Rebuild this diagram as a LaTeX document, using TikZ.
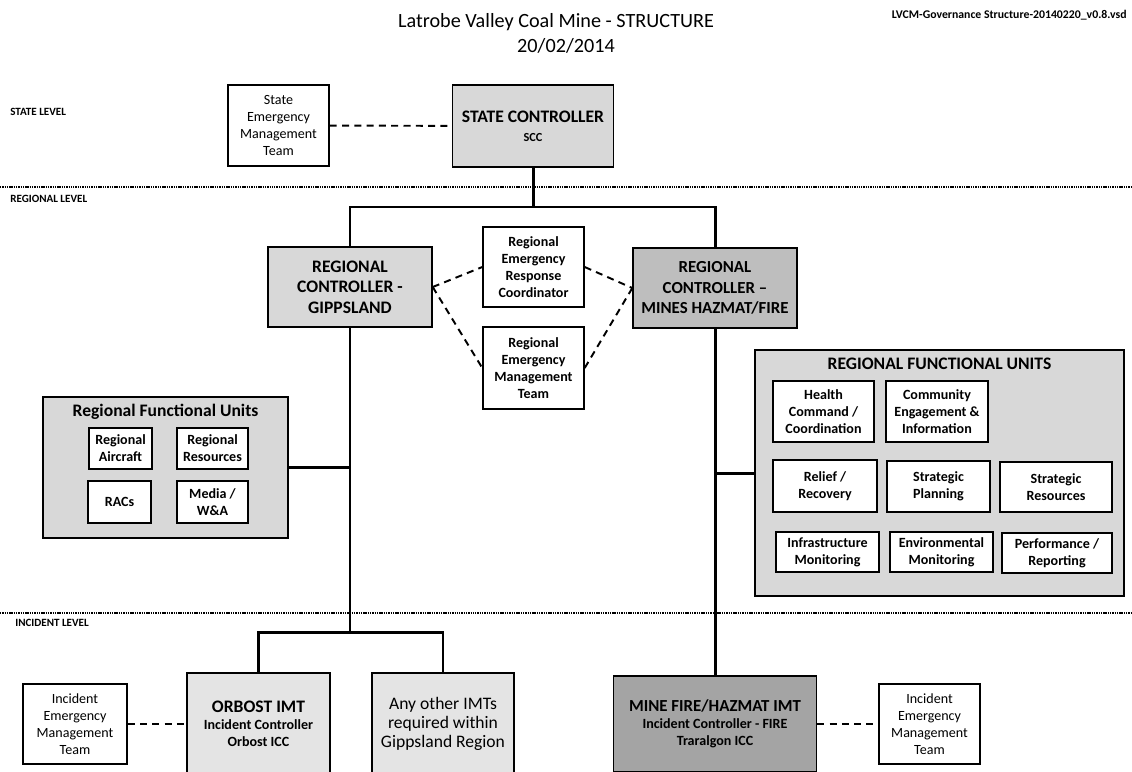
\documentclass[tikz,border=0pt]{standalone}
\usepackage{fontspec}
\setmainfont{Carlito}
\definecolor{paleshade}{HTML}{E4E4E4}
\definecolor{lightshade}{HTML}{D8D8D8}
\definecolor{midshade}{HTML}{BEBEBE}
\definecolor{darkshade}{HTML}{A4A4A4}
\tikzset{
  box/.style={draw, line width=0.8pt, fill=white, align=center, inner sep=1pt,
    font=\fontsize{8}{9.6}\selectfont},
  boldbox/.style={box, font=\fontsize{8}{9.6}\selectfont\bfseries},
  boxsize/.style 2 args={minimum width=#1*0.02cm, minimum height=#2*0.02cm},
  link/.style={line width=1.7pt},
  assoc/.style={line width=1.1pt, dash pattern=on 4pt off 3pt},
  levelline/.style={line width=0.6pt, dash pattern=on 0.8pt off 0.5pt},
  levelname/.style={anchor=west, inner sep=0pt, font=\fontsize{6.3}{7}\selectfont\bfseries},
}
\begin{document}
\begin{tikzpicture}[x=0.02cm, y=-0.02cm]
  \path[use as bounding box, clip] (0,0) rectangle (1132,771);
  \fill[white] (0,0) rectangle (1132,771);

  \node (title) at (556,22) [font=\fontsize{11.5}{13.6}\selectfont]
    {Latrobe Valley Coal Mine - STRUCTURE};
  \node (date) at (566,46) [font=\fontsize{11.5}{13.6}\selectfont] {20/02/2014};
  \node (file) at (1127,15) [anchor=east, inner sep=0pt, font=\fontsize{6.7}{7}\selectfont\bfseries]
    {LVCM-Governance Structure-20140220\_v0.8.vsd};

  \draw[levelline] (0,187) -- (1132,187);
  \draw[levelline] (0,613) -- (1132,613);
  \node (statelevel) at (10,112) [levelname] {STATE LEVEL};
  \node (regionlevel) at (10,199) [levelname] {REGIONAL LEVEL};
  \node (incidentlevel) at (15,623) [levelname] {INCIDENT LEVEL};

  % state level
  \node (semt) at (278.5,125.5) [box, boxsize={101}{81}] {State\\Emergency\\Management\\Team};
  \node (sc) at (533,126) [box, fill=lightshade, boxsize={161}{82}]
    {\fontsize{10}{12}\selectfont\bfseries STATE CONTROLLER\\[1pt]\fontsize{7}{9}\selectfont\bfseries SCC};

  % regional level
  \node (rcg) at (350,287) [box, fill=lightshade, boxsize={164}{80},
    font=\fontsize{10}{11.6}\selectfont\bfseries] {REGIONAL\\CONTROLLER -\\GIPPSLAND};
  \node (rcm) at (715,288) [box, fill=midshade, boxsize={164}{80},
    font=\fontsize{9.6}{11.6}\selectfont\bfseries] {REGIONAL\\CONTROLLER --\\MINES HAZMAT/FIRE};
  \node (rerc) at (533.5,267) [boldbox, boxsize={101}{80}] {Regional\\Emergency\\Response\\Coordinator};
  \node (remt) at (533.5,368) [boldbox, boxsize={101}{82}] {Regional\\Emergency\\Management\\Team};

  \node (lrfu) at (165.5,467.5) [box, fill=lightshade, boxsize={245}{141}] {};
  \node (lrfutitle) at (165.5,412) [font=\fontsize{10}{12}\selectfont\bfseries] {Regional Functional Units};
  \node (aircraft) at (120.5,448.5) [boldbox, boxsize={63}{41}] {Regional\\Aircraft};
  \node (resources) at (212.5,448.5) [boldbox, boxsize={71}{41}] {Regional\\Resources};
  \node (racs) at (119.5,502) [boldbox, boxsize={63}{42}] {RACs};
  \node (media) at (212.5,502) [boldbox, boxsize={71}{42}] {Media /\\W\&A};

  \node (rrfu) at (939.5,473) [box, fill=lightshade, boxsize={369}{246}] {};
  \node (rrfutitle) at (939.5,364) [font=\fontsize{10}{12}\selectfont\bfseries] {REGIONAL FUNCTIONAL UNITS};
  \node (health) at (823.5,411.5) [boldbox, boxsize={101}{61}] {Health\\Command /\\Coordination};
  \node (community) at (937,411.5) [boldbox, boxsize={102}{61}] {Community\\Engagement \&\\Information};
  \node (relief) at (825,486) [boldbox, boxsize={104}{52}] {Relief /\\Recovery};
  \node (planning) at (938.5,486.5) [boldbox, boxsize={103}{51}] {Strategic\\Planning};
  \node (stratres) at (1056,487) [boldbox, boxsize={112}{50}] {Strategic\\Resources};
  \node (infra) at (827.5,552) [boldbox, boxsize={103}{40}] {Infrastructure\\Monitoring};
  \node (environ) at (941.5,552) [boldbox, boxsize={103}{40}] {Environmental\\Monitoring};
  \node (perform) at (1057,553) [boldbox, boxsize={110}{40}] {Performance /\\Reporting};

  % incident level
  \node (orbost) at (258.5,724) [box, fill=paleshade, boxsize={143}{102}]
    {\fontsize{10}{12}\selectfont\bfseries ORBOST IMT\\\fontsize{8}{9.6}\selectfont\bfseries Incident Controller\\\fontsize{8}{9.6}\selectfont\bfseries Orbost ICC};
  \node (otherimt) at (443,724) [box, fill=paleshade, boxsize={142}{102},
    font=\fontsize{10}{10.8}\selectfont] {Any other IMTs\\required within\\Gippsland Region};
  \node (minefire) at (715,724) [box, fill=darkshade, boxsize={203}{96}]
    {\fontsize{9.6}{12}\selectfont\bfseries MINE FIRE/HAZMAT IMT\\\fontsize{8}{9.6}\selectfont\bfseries Incident Controller - FIRE\\\fontsize{8}{9.6}\selectfont\bfseries Traralgon ICC};
  \node (iemtleft) at (75,724) [box, boxsize={104}{80}] {Incident\\Emergency\\Management\\Team};
  \node (iemtright) at (929.5,724) [box, boxsize={101}{80}] {Incident\\Emergency\\Management\\Team};

  % connectors
  \coordinate (regbus) at (533,207);
  \coordinate (incbus) at (350,632);
  \draw[link] (sc.south) -- (regbus);
  \draw[link] (rcg.north) |- (regbus) -| (rcm.north);
  \draw[link] (rcg.south) -- (incbus);
  \draw[link] (orbost.north) |- (incbus) -| (otherimt.north);
  \draw[link] (rcm.south) -- (minefire.north);
  \draw[link] (lrfu.east) -- (lrfu.east -| rcg.south);
  \draw[link] (rrfu.west) -- (rrfu.west -| rcm.south);

  \draw[assoc] (semt) -- (sc);
  \draw[assoc] (rcg.east) -- (rerc.west);
  \draw[assoc] (rcg.east) -- (remt.west);
  \draw[assoc] (rerc.east) -- (rcm.west);
  \draw[assoc] (remt.east) -- (rcm.west);
  \draw[assoc] (iemtleft) -- (orbost);
  \draw[assoc] (minefire) -- (iemtright);
\end{tikzpicture}
\end{document}
